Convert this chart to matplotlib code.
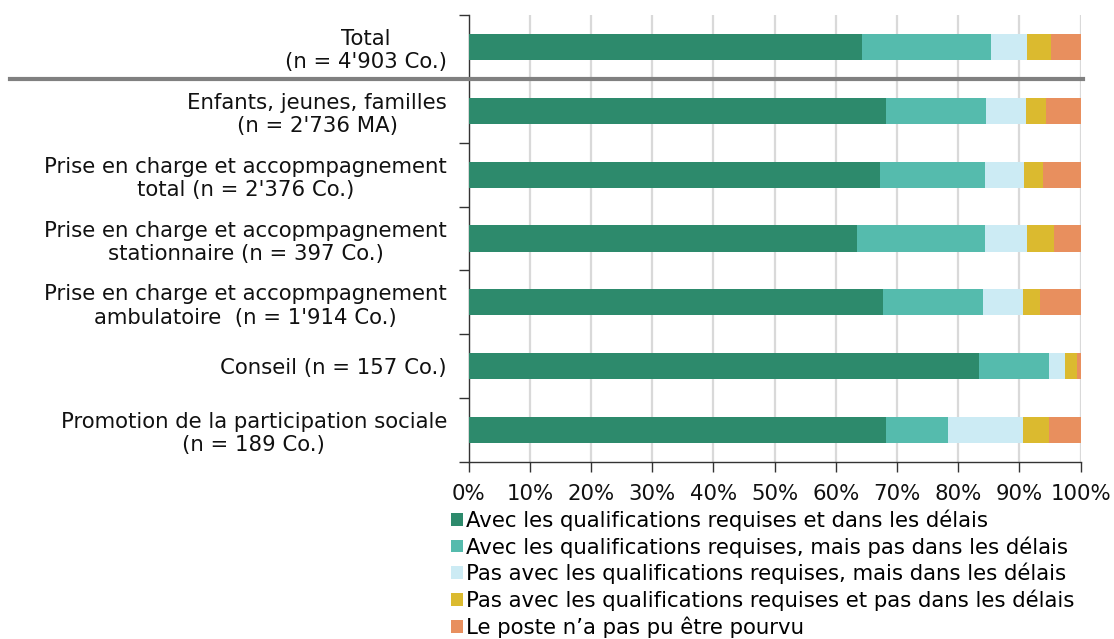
import matplotlib
matplotlib.use("Agg")
import matplotlib.pyplot as plt
from matplotlib.patches import Patch
import numpy as np

categories = [
    "Total\n(n = 4'903 Co.)",
    "Enfants, jeunes, familles\n(n = 2'736 MA)",
    "Prise en charge et accopmpagnement\ntotal (n = 2'376 Co.)",
    "Prise en charge et accopmpagnement\nstationnaire (n = 397 Co.)",
    "Prise en charge et accopmpagnement\nambulatoire  (n = 1'914 Co.)",
    "Conseil (n = 157 Co.)",
    "Promotion de la participation sociale\n(n = 189 Co.)",
]
series_names = [
    "Avec les qualifications requises et dans les délais",
    "Avec les qualifications requises, mais pas dans les délais",
    "Pas avec les qualifications requises, mais dans les délais",
    "Pas avec les qualifications requises et pas dans les délais",
    "Le poste n\u2019a pas pu être pourvu",
]
avec_delais = [64.3, 68.2, 67.2, 63.5, 67.7, 83.4, 68.2]
avec_pas_delais = [21.0, 16.3, 17.1, 20.9, 16.3, 11.5, 10.1]
pas_avec_delais = [5.9, 6.5, 6.5, 6.8, 6.5, 2.6, 12.3]
pas_avec_pas_delais = [3.9, 3.3, 3.0, 4.4, 2.8, 1.9, 4.2]
non_pourvu = [4.9, 5.7, 6.2, 4.4, 6.7, 0.6, 5.2]
tick_labels = [f"{v}%" for v in range(0, 101, 10)]

colors = ["#2D8A6C", "#55BBAD", "#CCEBF4", "#DBBA2F", "#E88F5E"]
series = [avec_delais, avec_pas_delais, pas_avec_delais, pas_avec_pas_delais, non_pourvu]

FS = 15.3
plt.rcParams['font.family'] = ['DejaVu Sans']
fig = plt.figure(figsize=(11.14, 6.39), dpi=100)
ax = fig.add_axes([0.4207, 0.277, 0.5494, 0.6995])

y = np.arange(len(categories))
left = np.zeros(len(categories))
for vals, col, name in zip(series, colors, series_names):
    ax.barh(y, vals, left=left, height=0.41, color=col, label=name, zorder=3)
    left += np.array(vals)

ax.set_xlim(0, 100)
ax.set_ylim(len(categories) - 0.5, -0.5)
ax.set_xticks(range(0, 101, 10))
ax.set_xticklabels(tick_labels, fontsize=FS, color='#111111')
ax.set_yticks(y)
ax.set_yticklabels(categories, fontsize=FS, color='#111111')
ax.set_yticks(np.arange(-0.5, len(categories), 1), minor=True)
ax.tick_params(axis='y', which='major', length=0, pad=15.6)
ax.tick_params(axis='y', which='minor', length=7, width=1, color='#333333')
ax.tick_params(axis='x', which='major', length=7, width=1, color='#333333', pad=8.5)
for lab in ax.get_yticklabels():
    lab.set_multialignment('center')

ax.grid(axis='x', color='#D9D9D9', linewidth=1.6, zorder=0)
ax.set_axisbelow(True)
for s in ['top', 'right']:
    ax.spines[s].set_visible(False)
for s in ['left', 'bottom']:
    ax.spines[s].set_color('#333333')
    ax.spines[s].set_linewidth(1)

ax.plot([-0.749, 1.003], [0.5, 0.5], transform=ax.get_yaxis_transform(),
        color='#808080', linewidth=3, clip_on=False, zorder=5)

handles = [Patch(facecolor=c, edgecolor='none') for c in colors]
fig.legend(handles, series_names, loc='upper left', bbox_to_anchor=(0.405, 0.203),
           frameon=False, fontsize=FS, handlelength=0.55, handleheight=0.55,
           handletextpad=0.15, labelspacing=0.25, borderaxespad=0, borderpad=0)

fig.savefig("out.png", dpi=100)
